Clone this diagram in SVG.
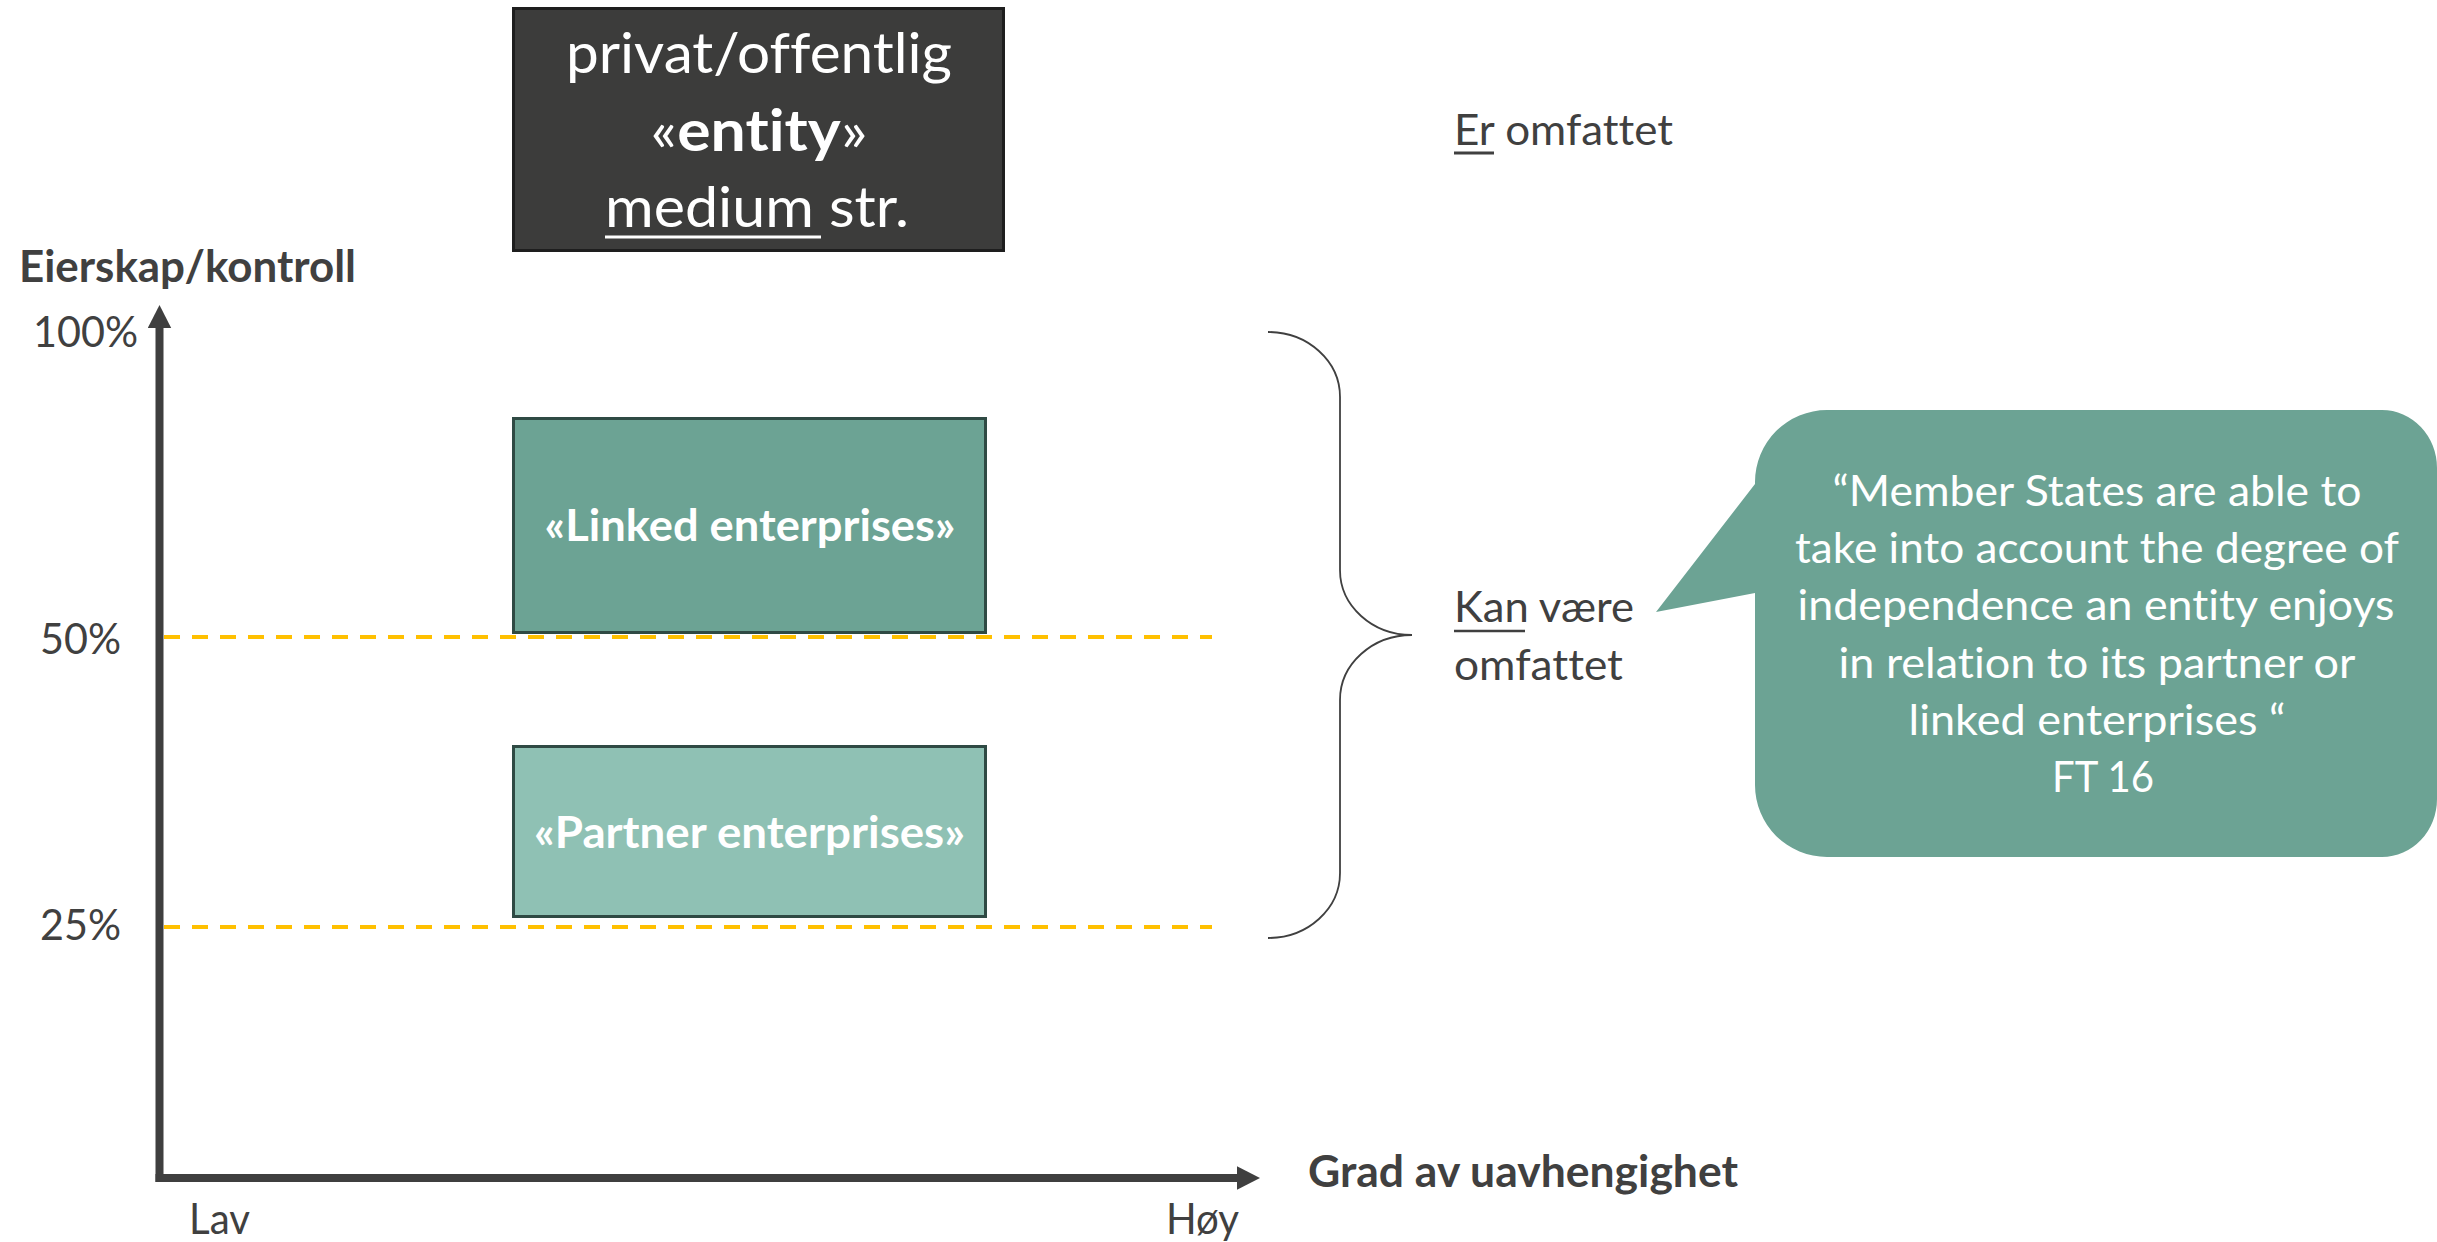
<svg xmlns="http://www.w3.org/2000/svg" width="2437" height="1242" viewBox="0 0 2437 1242">
<defs>
<style>
.t{font-family:Lato,"Open Sans","Liberation Sans",sans-serif;font-size:43px;fill:#404040;font-variant-ligatures:none;font-feature-settings:"liga" 0,"clig" 0}
.w{fill:#ffffff}
.b{font-weight:bold}
.big{font-size:57px}
.mid{text-anchor:middle}
.axis{stroke:#3f3f3f;stroke-width:8;fill:none}
.dash{stroke:#ffc000;stroke-width:4;stroke-dasharray:16 12;fill:none}
.ul{stroke-width:3}
.box{stroke:#2f4a44;stroke-width:3}
</style>
<marker id="arr" markerUnits="userSpaceOnUse" markerWidth="24" markerHeight="24" refX="0" refY="11.7" orient="auto" viewBox="0 0 24 24">
<path d="M0,0 L23,11.7 L0,23.4 Z" fill="#3f3f3f"/>
</marker>
</defs>
<rect width="2437" height="1242" fill="#ffffff"/>

<g id="connectors">
<line class="dash" x1="164" y1="637" x2="1212" y2="637"/>
<line class="dash" x1="164" y1="927" x2="1212" y2="927"/>
<line class="axis" x1="159.5" y1="1182" x2="159.5" y2="328" marker-end="url(#arr)"/>
<line class="axis" x1="155.5" y1="1178" x2="1237" y2="1178" marker-end="url(#arr)"/>
<path d="M1268,332 A72,65 0 0 1 1340,397 L1340,570 A72,65 0 0 0 1412,635 A72,65 0 0 0 1340,700 L1340,873 A72,65 0 0 1 1268,938" fill="none" stroke="#404040" stroke-width="1.8"/>
</g>

<g id="axis-labels">
<text class="t b" x="19" y="282" textLength="337" lengthAdjust="spacingAndGlyphs">Eierskap/kontroll</text>
<text class="t" x="33" y="347" textLength="105" lengthAdjust="spacingAndGlyphs">100%</text>
<text class="t" x="40" y="654" textLength="81" lengthAdjust="spacingAndGlyphs">50%</text>
<text class="t" x="40" y="940" textLength="81" lengthAdjust="spacingAndGlyphs">25%</text>
<text class="t" x="189" y="1234" textLength="61" lengthAdjust="spacingAndGlyphs">Lav</text>
<text class="t" x="1166" y="1234" textLength="73" lengthAdjust="spacingAndGlyphs">Høy</text>
<text class="t b" x="1308" y="1187" textLength="430" lengthAdjust="spacingAndGlyphs">Grad av uavhengighet</text>
</g>

<g id="entity">
<rect x="513.5" y="8.5" width="490" height="242" fill="#3c3c3b" stroke="#1e1e1e" stroke-width="3"/>
<text class="t w big mid" x="759" y="73" textLength="386" lengthAdjust="spacingAndGlyphs">privat/offentlig</text>
<text class="t w big mid" x="759" y="151" textLength="217" lengthAdjust="spacingAndGlyphs">«<tspan class="b">entity</tspan>»</text>
<text class="t w big mid" x="757" y="227" textLength="304" lengthAdjust="spacingAndGlyphs">medium str.</text>
<line class="ul" x1="605" y1="237" x2="821" y2="237" stroke="#ffffff"/>
</g>

<g id="linked">
<rect class="box" x="513.5" y="418.5" width="472" height="214" fill="#6ca394"/>
<text class="t w b mid" x="750" y="541" textLength="411" lengthAdjust="spacingAndGlyphs">«Linked enterprises»</text>
</g>

<g id="partner">
<rect class="box" x="513.5" y="746.5" width="472" height="170" fill="#8fc1b4"/>
<text class="t w b mid" x="749.5" y="848" textLength="431" lengthAdjust="spacingAndGlyphs">«Partner enterprises»</text>
</g>

<g id="er-omfattet">
<text class="t" x="1454" y="145" textLength="219" lengthAdjust="spacingAndGlyphs">Er omfattet</text>
<line class="ul" x1="1454" y1="153" x2="1494" y2="153" stroke="#404040" stroke-width="2.5"/>
</g>

<g id="kan-vaere">
<text class="t" x="1454" y="622" textLength="180" lengthAdjust="spacingAndGlyphs">Kan være</text>
<text class="t" x="1454" y="679.5" textLength="169" lengthAdjust="spacingAndGlyphs">omfattet</text>
<line x1="1454" y1="631" x2="1525" y2="631" stroke="#404040" stroke-width="2.5"/>
</g>

<g id="callout">
<path d="M1827,410 L2382,410 A55,58 0 0 1 2437,468 L2437,799 A55,58 0 0 1 2382,857 L1827,857 A72,72 0 0 1 1755,785 L1755,593 L1656,612 L1755,484 L1755,482 A72,72 0 0 1 1827,410 Z" fill="#6ca394"/>
<text class="t w mid" x="2097" y="506" textLength="529" lengthAdjust="spacingAndGlyphs">“Member States are able to</text>
<text class="t w mid" x="2097" y="563" textLength="604" lengthAdjust="spacingAndGlyphs">take into account the degree of</text>
<text class="t w mid" x="2096" y="620" textLength="597" lengthAdjust="spacingAndGlyphs">independence an entity enjoys</text>
<text class="t w mid" x="2097" y="677.5" textLength="517" lengthAdjust="spacingAndGlyphs">in relation to its partner or</text>
<text class="t w mid" x="2097" y="734.5" textLength="377" lengthAdjust="spacingAndGlyphs">linked enterprises “</text>
<text class="t w mid" x="2103" y="792" textLength="102" lengthAdjust="spacingAndGlyphs">FT 16</text>
</g>
</svg>
